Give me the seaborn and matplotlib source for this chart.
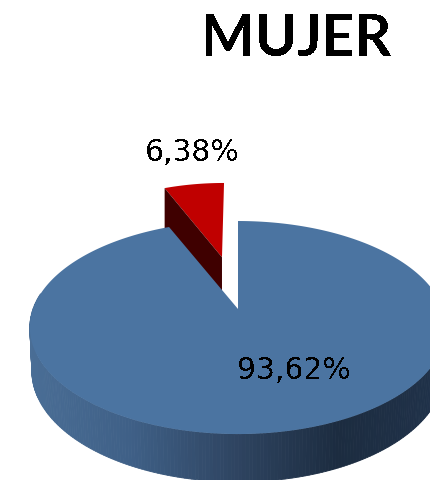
import numpy as np
import matplotlib
matplotlib.use("Agg")
import matplotlib.pyplot as plt
import seaborn as sns

title = "MUJER"
slice_values = [93.62, 6.38]
slice_labels = ["93,62%", "6,38%"]

sns.set_theme(style="white")
plt.rcParams["text.antialiased"] = False

# perspectiva del pastel, en pixeles
CX, CY = 238, 310
RX, RY, K = 205, 103.3, 0.174
CX2, CY2, RX2, RY2 = 238, 352.7, 203, 107.6
EXPLODE_U, EXPLODE_V = 0.43, 0.56
RED_SQUEEZE = 0.93

BLUE = "#4b74a1"
RED = "#c00000"
DARK_RED = "#3f0000"

# gradiente del costado, de izquierda a derecha
side_colors = sns.blend_palette(["#4a6e96", "#3f6087", "#2f4562", "#1c2c40", "#20324a"], 200)


def project(u, v, cx=CX, cy=CY, rx=RX, ry=RY):
    d = 1 + K * v
    return cx + rx * u / d, cy - ry * v / d


def disk_arc(a0, a1, n):
    # angulo medido desde las 12 en sentido horario
    t = np.radians(np.linspace(a0, a1, n))
    return np.sin(t), np.cos(t)


def draw_side(ax, a0, a1):
    u, v = disk_arc(a0, a1, 400)
    x1, y1 = project(u, v)
    x2, y2 = project(u, v, CX2, CY2, RX2, RY2)
    for i in range(len(u) - 1):
        if v[i] > 0.15:
            continue
        frac = np.clip((x1[i] - 25) / 420, 0, 0.999)
        c = side_colors[int(frac * len(side_colors))]
        ax.fill([x1[i], x1[i + 1], x2[i + 1], x2[i]], [y1[i], y1[i + 1], y2[i + 1], y2[i]],
                color=c, lw=0.6, zorder=2)


fig = plt.figure(figsize=(4.31, 4.81), dpi=100)
ax = fig.add_axes([0, 0, 1, 1])
ax.set_xlim(0, 431)
ax.set_ylim(481, 0)
ax.axis("off")

angles = np.cumsum([0] + slice_values) / sum(slice_values) * 360

# rebanada roja separada
mid = np.radians((angles[1] + angles[2]) / 2)
u, v = disk_arc(angles[1], angles[2], 100)
xr, yr = project(np.r_[0, u] + EXPLODE_U * np.sin(mid), np.r_[0, v] + EXPLODE_V * np.cos(mid))
xr = xr[0] + (xr - xr[0]) * RED_SQUEEZE
ax.fill(xr, yr, color=RED, lw=0, zorder=2)
ax.fill([xr[1], xr[0], xr[0], xr[1]], [yr[1], yr[0], yr[0] + 45, yr[1] + 45],
        color=DARK_RED, lw=0, zorder=2.5)

# rebanada azul con su costado
draw_side(ax, angles[0], angles[1])
u, v = disk_arc(angles[0], angles[1], 300)
xb, yb = project(np.r_[0, u], np.r_[0, v])
ax.fill(xb, yb, color=BLUE, lw=0, zorder=3)

ax.text(297, 39, title, ha="center", va="center", fontsize=41, fontweight="bold",
        family="Lato", color="black", zorder=5)
ax.text(192, 153, slice_labels[1], ha="center", va="center", fontsize=21.5, color="black", zorder=5)
ax.text(294, 371, slice_labels[0], ha="center", va="center", fontsize=21.5, color="black", zorder=5)

fig.savefig("out.png", dpi=100)
